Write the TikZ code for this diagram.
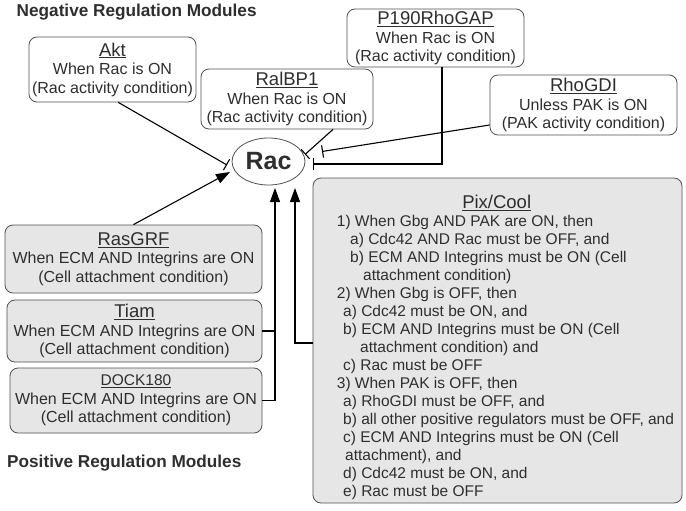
\documentclass[tikz,border=0pt]{standalone}
\usepackage{fontspec}
\setmainfont{Liberation Sans}
\usetikzlibrary{arrows.meta,calc,shapes.geometric}
\definecolor{txt}{HTML}{2E2E2E}
\definecolor{edge}{HTML}{505050}
\definecolor{pfill}{HTML}{E6E6E6}
\newcommand{\ttlfont}{\fontsize{18.5}{18}\selectfont}
\begin{document}
\begin{tikzpicture}[x=1pt,y=-1pt,
  box/.style={draw=edge, rounded corners=8pt, line width=0.8pt, inner sep=0pt, align=center, text=txt, font=\fontsize{16}{18.5}\selectfont},
  negbox/.style={box, fill=white},
  posbox/.style={box, fill=pfill},
  heading/.style={anchor=west, inner sep=0pt, text=txt, font=\bfseries\fontsize{17.2}{18}\selectfont},
  pl/.style={anchor=base west, inner sep=0pt, text=txt, font=\fontsize{15.5}{18}\selectfont},
  act/.style={draw=black, line width=1.1pt, -{Triangle[length=14pt,width=10pt]}},
  inh/.style={draw=black, line width=1.1pt, -{Bar[width=12.5pt,line width=1.1pt]}},
  plain/.style={draw=black, line width=1.1pt}
]
\useasboundingbox (0,0) rectangle (686,511);

% headings
\node[heading] (neghead) at (16.5,12) {Negative Regulation Modules};
\node[heading] (poshead) at (7,463.5) {Positive Regulation Modules};

% Rac
\node[draw=edge, line width=0.8pt, ellipse, minimum width=73pt, minimum height=47pt, inner sep=0pt,
      text=txt, font=\bfseries\fontsize{25}{25}\selectfont] (rac) at (268.5,161.5) {Rac};

% negative modules
\node[negbox, minimum width=167pt, minimum height=65pt] (akt) at (112.5,69.5)
  {{\ttlfont\underline{Akt}}\\When Rac is ON\\(Rac activity condition)};
\node[negbox, minimum width=172pt, minimum height=60pt] (ralbp1) at (287,99)
  {{\ttlfont\underline{RalBP1}}\\When Rac is ON\\(Rac activity condition)};
\node[negbox, minimum width=177pt, minimum height=58pt] (p190) at (435.5,38)
  {{\ttlfont\underline{P190RhoGAP}}\\When Rac is ON\\(Rac activity condition)};
\node[negbox, minimum width=187pt, minimum height=60pt] (rhogdi) at (583.5,105)
  {{\ttlfont\underline{RhoGDI}}\\Unless PAK is ON\\(PAK activity condition)};

% positive modules
\node[posbox, minimum width=257pt, minimum height=68pt] (rasgrf) at (133.5,259)
  {{\ttlfont\underline{RasGRF}}\\When ECM AND Integrins are ON\\(Cell attachment condition)};
\node[posbox, minimum width=255pt, minimum height=62pt] (tiam) at (134.5,331)
  {{\ttlfont\underline{Tiam}}\\When ECM AND Integrins are ON\\(Cell attachment condition)};
\node[posbox, minimum width=252pt, minimum height=65pt] (dock) at (136,400.5)
  {{\fontsize{15.5}{18}\selectfont\underline{DOCK180}}\\When ECM AND Integrins are ON\\(Cell attachment condition)};

% Pix/Cool
\node[posbox, minimum width=369pt, minimum height=325pt] (pix) at (497.5,340.5) {};
\node[anchor=base, inner sep=0pt, text=txt] (pixtitle) at (496.7,208.3) {\ttlfont\underline{Pix/Cool}};
\node[pl] (p1)  at (336.7,226.7) {1) When Gbg AND PAK are ON, then};
\node[pl] (p2)  at (350,244.7)   {a) Cdc42 AND Rac must be OFF, and};
\node[pl] (p3)  at (350,262.7)   {b) ECM AND Integrins must be ON (Cell};
\node[pl] (p4)  at (363,280.7)   {attachment condition)};
\node[pl] (p5)  at (336.7,298.7) {2) When Gbg is OFF, then};
\node[pl] (p6)  at (343,316.7)   {a) Cdc42 must be ON, and};
\node[pl] (p7)  at (343,334.7)   {b) ECM AND Integrins must be ON (Cell};
\node[pl] (p8)  at (360,352.7)   {attachment condition) and};
\node[pl] (p9)  at (343,370.7)   {c) Rac must be OFF};
\node[pl] (p10) at (336.7,388.7) {3) When PAK is OFF, then};
\node[pl] (p11) at (343,406.7)   {a) RhoGDI must be OFF, and};
\node[pl] (p12) at (343,424.7)   {b) all other positive regulators must be OFF, and};
\node[pl] (p13) at (343,442.7)   {c) ECM AND Integrins must be ON (Cell};
\node[pl] (p14) at (345,460.7)   {attachment), and};
\node[pl] (p15) at (343,478.7)   {d) Cdc42 must be ON, and};
\node[pl] (p16) at (343,496.7)   {e) Rac must be OFF};

% inhibitory connectors
\draw[inh] (akt.280) -- ($(rac.center)+(-41.5,3.5)$);
\draw[inh] ($(ralbp1.south)+(46,0)$) -- ($(rac.center)+(36.5,-7)$);
\draw[inh] ($(rhogdi.west)+(0,20)$) -- ($(rac.center)+(53.5,-10)$);
\draw[inh] ($(p190.south)+(6.5,0)$) |- ($(rac.center)+(44.5,2.5)$);

% activating connectors
\draw[act] (rasgrf.north) -- ($(rac.center)+(-38.5,10.5)$);
\draw[plain] (tiam.east) -- ++(13,0);
\draw[act] (dock.east) -| ($(rac.center)+(6.5,26.5)$);
\draw[act] ($(pix.west)+(0,2.5)$) -| ($(rac.center)+(26.5,26.5)$);
\end{tikzpicture}
\end{document}
